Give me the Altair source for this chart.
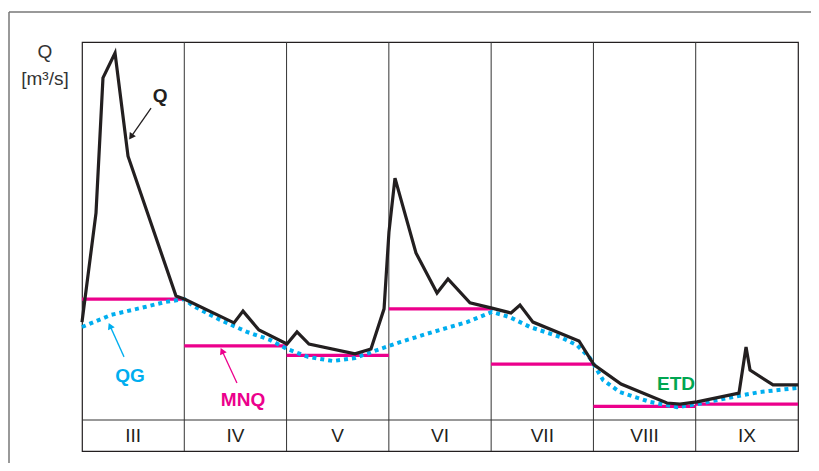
import math
import altair as alt
import pandas as pd

# ---------------- data (x in months from start of III, y in relative discharge units) ----
months = ["III", "IV", "V", "VI", "VII", "VIII", "IX"]

q_x = [0.0, 0.137, 0.205, 0.323, 0.450, 0.919, 1.0, 1.486, 1.574, 1.730, 2.004, 2.102,
       2.219, 2.669, 2.825, 2.953, 3.001, 3.060, 3.265, 3.471, 3.578, 3.793, 4.008,
       4.194, 4.282, 4.409, 4.859, 5.006, 5.270, 5.719, 5.846, 6.013, 6.423, 6.492,
       6.531, 6.756, 7.0]
q_y = [25.9, 54.8, 90.5, 97.1, 69.8, 32.8, 32.0, 25.7, 28.8, 23.8, 20.1, 23.3,
       20.1, 17.5, 18.8, 29.4, 49.7, 64.0, 44.2, 33.6, 37.3, 31.0, 29.6,
       28.3, 30.4, 25.9, 20.9, 14.6, 9.5, 4.5, 4.2, 4.8, 7.1, 19.3,
       13.2, 9.3, 9.3]

qg_x = [0.0, 0.284, 0.616, 0.811, 1.0, 1.085, 1.349, 1.613, 1.838, 2.004, 2.209, 2.454,
        2.669, 2.884, 3.109, 3.432, 3.764, 4.008, 4.184, 4.380, 4.673, 4.839, 4.966,
        5.093, 5.259, 5.553, 5.817, 6.013, 6.365, 6.629, 7.0]
qg_y = [24.6, 27.8, 29.9, 31.2, 32.0, 30.2, 26.5, 23.3, 21.2, 18.8, 16.7, 15.6,
        16.4, 18.5, 20.6, 23.3, 25.9, 28.6, 27.2, 24.6, 22.0, 19.8, 16.4,
        10.6, 7.4, 4.8, 3.4, 4.2, 6.1, 7.4, 8.5]

mnq_y = [32.0, 19.6, 17.1, 29.4, 14.8, 3.6, 4.2]

label_text = ["Q", "QG", "MNQ", "ETD"]
label_x = [0.763, 0.469, 1.574, 5.807]
label_y = [85.7, 11.6, 5.3, 9.5]
label_color = ["#231f20", "#00aeef", "#ec008c", "#00a651"]

arrow_x0 = [0.675, 0.411, 1.515]
arrow_y0 = [82.5, 16.7, 9.8]
arrow_x1 = [0.479, 0.274, 1.369]
arrow_y1 = [74.9, 24.9, 18.3]
arrow_color = ["#231f20", "#00aeef", "#ec008c"]

# ---------------- layout ----------------
W, H = 716, 409
YMIN, YMAX = -8.2, 100.0
PX_X = W / 7.0
PX_Y = H / (YMAX - YMIN)

xs = alt.Scale(domain=[0, 7], nice=False, zero=False)
ys = alt.Scale(domain=[YMIN, YMAX], nice=False, zero=False)

def X(f):
    return alt.X(f, type="quantitative", scale=xs, axis=None)

def Y(f):
    return alt.Y(f, type="quantitative", scale=ys, axis=None)

q_df = pd.DataFrame({"x": q_x, "y": q_y})
qg_df = pd.DataFrame({"x": qg_x, "y": qg_y})
mnq_df = pd.DataFrame({"x": list(range(7)), "x2": list(range(1, 8)), "y": mnq_y})
mon_df = pd.DataFrame({"m": months, "x": [i + 0.5 for i in range(7)],
                       "y": [YMIN / 2] * 7})
div_df = pd.DataFrame({"x": list(range(1, 7))})
lab_df = pd.DataFrame({"t": label_text, "x": label_x, "y": label_y, "c": label_color})

ang = []
for i in range(3):
    dx = (arrow_x1[i] - arrow_x0[i]) * PX_X
    dy = -(arrow_y1[i] - arrow_y0[i]) * PX_Y
    a = math.degrees(math.atan2(dx, -dy)) % 360
    ang.append(a)
arr_df = pd.DataFrame({"x0": arrow_x0, "y0": arrow_y0, "x1": arrow_x1, "y1": arrow_y1,
                       "c": arrow_color, "a": ang})

dividers = alt.Chart(div_df).mark_rule(color="#333333", strokeWidth=1).encode(
    x=X("x"), y=alt.value(0), y2=alt.value(H))
baseline = alt.Chart(pd.DataFrame({"y": [0]})).mark_rule(color="#333333", strokeWidth=1).encode(
    y=Y("y"), x=alt.value(0), x2=alt.value(W))

mnq = alt.Chart(mnq_df).mark_rule(color="#ec008c", strokeWidth=3.2).encode(
    x=X("x"), x2="x2", y=Y("y"))

qg = alt.Chart(qg_df).mark_line(color="#00aeef", strokeWidth=4, strokeDash=[4, 4],
                                strokeCap="butt").encode(x=X("x"), y=Y("y"))

q = alt.Chart(q_df).mark_line(color="#231f20", strokeWidth=3.2, strokeJoin="miter").encode(
    x=X("x"), y=Y("y"))

mon = alt.Chart(mon_df).mark_text(font="Liberation Sans", fontSize=19, color="#231f20",
                                  baseline="middle").encode(x=X("x"), y=Y("y"), text="m")

labs = alt.Chart(lab_df).mark_text(font="Liberation Sans", fontSize=19, fontWeight="bold",
                                   baseline="middle").encode(
    x=X("x"), y=Y("y"), text="t", color=alt.Color("c", scale=None))

arr_lines = alt.Chart(arr_df).mark_rule(strokeWidth=1.3).encode(
    x=X("x0"), y=Y("y0"), x2="x1", y2="y1", color=alt.Color("c", scale=None))
arr_heads = alt.Chart(arr_df).mark_point(shape="triangle-up", size=55, filled=True,
                                         opacity=1).encode(
    x=X("x1"), y=Y("y1"), angle=alt.Angle("a", scale=None),
    color=alt.Color("c", scale=None))

ytitle = alt.Chart(pd.DataFrame({"t": ["Q", "[m³/s]"], "py": [10, 37]})).mark_text(
    font="Liberation Sans", fontSize=19, color="#333333", baseline="middle").encode(
    x=alt.value(-37), y=alt.Y("py:Q", scale=None, axis=None), text="t")

frame_v = alt.Chart(pd.DataFrame({"a": [0]})).mark_rule(color="#777777", strokeWidth=1.5).encode(
    x=alt.value(-73), y=alt.value(-30), y2=alt.value(600))
frame_h = alt.Chart(pd.DataFrame({"a": [0]})).mark_rule(color="#777777", strokeWidth=1.5).encode(
    y=alt.value(-30), x=alt.value(-73), x2=alt.value(900))

chart = alt.layer(frame_v, frame_h, dividers, baseline, mnq, qg, q, mon, labs,
                  arr_lines, arr_heads, ytitle).properties(
    width=W, height=H,
    autosize=alt.AutoSizeParams(type="none"),
    padding={"left": 74, "top": 34, "right": 13, "bottom": 12},
).configure_view(stroke="#231f20", strokeWidth=1.2)

chart.save("out.html", embed_options={"renderer": "svg", "actions": False})
